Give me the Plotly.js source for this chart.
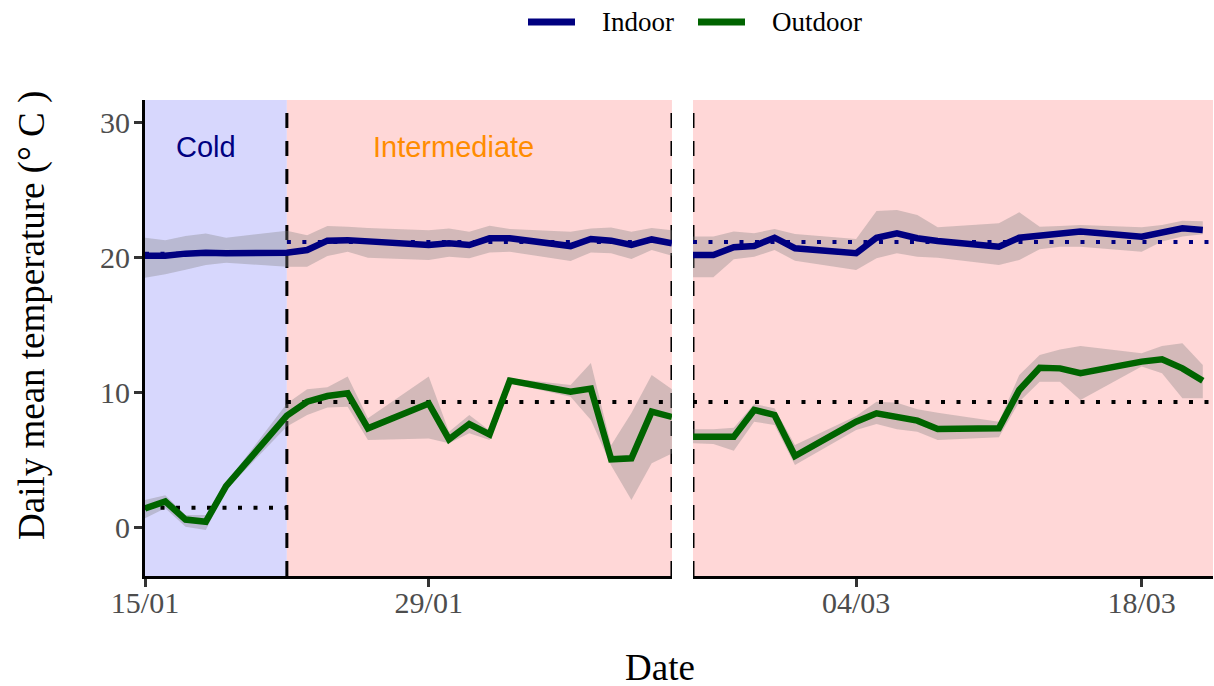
<!DOCTYPE html>
<html>
<head>
<meta charset="utf-8">
<script src="https://cdn.plot.ly/plotly-3.0.1.min.js"></script>
<style>
  html, body { margin: 0; padding: 0; background: #fff; }
  #chart { width: 1214px; height: 686px; }
</style>
</head>
<body>
<div id="chart"></div>
<script>
// Daily observation dates (two measurement campaigns separated by a gap)
const dates = [
  '2021-01-15','2021-01-16','2021-01-17','2021-01-18','2021-01-19','2021-01-22','2021-01-23',
  '2021-01-24','2021-01-25','2021-01-26','2021-01-29','2021-01-30','2021-01-31','2021-02-01',
  '2021-02-02','2021-02-05','2021-02-06','2021-02-07','2021-02-08','2021-02-09','2021-02-10',
  '2021-02-24','2021-02-25','2021-02-26','2021-02-27','2021-02-28','2021-03-01','2021-03-04',
  '2021-03-05','2021-03-06','2021-03-07','2021-03-08','2021-03-11','2021-03-12','2021-03-13',
  '2021-03-14','2021-03-15','2021-03-18','2021-03-19','2021-03-20','2021-03-21'
];

// Indoor daily mean temperature (°C) with its lower / upper band
const indoorMean = [
  20.15,20.15,20.3,20.37,20.32,20.37,20.57,21.26,21.3,21.2,20.94,21.06,20.94,21.43,21.43,20.86,21.38,21.26,20.94,21.35,21.06,
  20.2,20.2,20.77,20.87,21.48,20.7,20.33,21.48,21.81,21.44,21.24,20.81,21.48,21.61,21.81,21.93,21.56,21.85,22.18,22.05
];
const indoorLow = [
  18.52,18.77,19.1,19.46,19.63,19.33,19.33,20.12,20.44,20.0,19.83,20.07,19.95,20.39,20.44,19.75,20.39,20.32,19.9,20.57,20.15,
  18.55,18.55,19.88,20.07,20.57,19.78,19.09,19.96,20.33,20.07,20.0,19.46,19.83,20.62,20.81,20.81,20.44,21.19,21.56,21.73
];
const indoorHigh = [
  21.48,21.3,21.6,21.8,21.48,22.0,21.67,22.34,22.29,22.2,22.04,22.17,21.92,22.36,22.12,21.92,22.17,22.24,21.92,22.2,22.04,
  21.56,21.56,21.93,21.81,22.13,21.76,21.39,23.46,23.53,23.16,22.25,22.55,23.36,22.3,22.35,22.42,22.25,22.42,22.74,22.7
];

// Outdoor daily mean temperature (°C) with its lower / upper band
const outdoorMean = [
  1.42,1.95,0.6,0.44,3.07,8.3,9.33,9.75,9.95,7.36,9.2,6.54,7.68,6.91,10.89,10.07,10.3,5.06,5.14,8.59,8.2,
  6.74,6.74,6.74,8.72,8.35,5.31,7.85,8.47,8.17,7.93,7.31,7.36,10.2,11.85,11.8,11.44,12.3,12.47,11.8,10.89
];
const outdoorLow = [
  0.69,1.43,0.07,-0.17,2.8,7.5,8.35,8.9,8.96,6.5,6.6,6.25,7.0,6.5,10.7,9.7,7.97,4.6,2.05,4.77,5.5,
  6.25,6.2,5.7,7.85,7.6,4.64,7.24,7.68,7.29,7.11,6.5,6.7,9.33,10.81,10.81,9.46,11.93,11.44,9.58,9.58
];
const outdoorHigh = [
  2.05,2.4,0.94,0.94,3.3,9.2,10.25,10.4,11.2,8.1,11.2,7.1,8.35,7.2,11.06,10.57,12.2,6.1,8.5,11.3,10.25,
  7.29,7.29,7.41,9.16,8.84,6.12,8.27,9.33,9.26,8.77,8.52,7.85,11.31,12.79,13.2,13.46,12.92,13.46,13.66,12.05
];

// Temperature periods and their mean temperatures
const periodNames = ['Cold', 'Intermediate'];
const periodStart = ['2021-01-15', '2021-01-22'];
const periodEnd = ['2021-01-22', '2021-03-21 12:00'];
const periodIndoorMean = [20.3, 21.17];
const periodOutdoorMean = [1.48, 9.3];

// The two panels of the date axis (either side of the data gap)
const panelStart = ['2021-01-15', '2021-02-24'];
const panelEnd = ['2021-02-10', '2021-03-21 12:00'];
const panelTicks = [['2021-01-15', '2021-01-29'], ['2021-03-04', '2021-03-18']];

// Styling
const INDOOR = '#000080';
const OUTDOOR = '#006400';
const BAND = 'rgba(128,128,128,0.35)';
const periodFill = ['#D7D7FD', '#FFD7D7'];
const periodText = ['#000080', '#FF8C00'];
const SERIF = '"Liberation Serif", "Times New Roman", serif';
const SANS = '"Liberation Sans", Arial, sans-serif';
const axisIds = ['x', 'x2'];

function inPanel(p) {
  const idx = [];
  dates.forEach((d, i) => { if (d >= panelStart[p] && d <= panelEnd[p]) idx.push(i); });
  return idx;
}
const pick = (arr, idx) => idx.map(i => arr[i]);

const series = [
  { name: 'Indoor', color: INDOOR, mean: indoorMean, low: indoorLow, high: indoorHigh, periodMean: periodIndoorMean, dotColor: INDOOR },
  { name: 'Outdoor', color: OUTDOOR, mean: outdoorMean, low: outdoorLow, high: outdoorHigh, periodMean: periodOutdoorMean, dotColor: '#000000' }
];

const traces = [];
// ribbons
axisIds.forEach((ax, p) => {
  const idx = inPanel(p);
  const xs = pick(dates, idx);
  series.forEach(s => {
    traces.push({ x: xs, y: pick(s.low, idx), xaxis: ax, yaxis: 'y', type: 'scatter', mode: 'lines',
      line: { width: 0, color: 'rgba(0,0,0,0)' }, showlegend: false, hoverinfo: 'skip' });
    traces.push({ x: xs, y: pick(s.high, idx), xaxis: ax, yaxis: 'y', type: 'scatter', mode: 'lines',
      line: { width: 0, color: 'rgba(0,0,0,0)' }, fill: 'tonexty', fillcolor: BAND, showlegend: false, hoverinfo: 'skip' });
  });
});
// period mean reference lines, clipped to each panel
axisIds.forEach((ax, p) => {
  periodNames.forEach((name, k) => {
    const a = periodStart[k] > panelStart[p] ? periodStart[k] : panelStart[p];
    const b = periodEnd[k] < panelEnd[p] ? periodEnd[k] : panelEnd[p];
    if (a >= b) return;
    series.forEach(s => {
      traces.push({ x: [a, b], y: [s.periodMean[k], s.periodMean[k]], xaxis: ax, yaxis: 'y', type: 'scatter',
        mode: 'lines', line: { color: s.dotColor, width: 4, dash: '4px,11.5px' }, showlegend: false, hoverinfo: 'skip' });
    });
  });
});
// daily mean lines
axisIds.forEach((ax, p) => {
  const idx = inPanel(p);
  const xs = pick(dates, idx);
  series.forEach(s => {
    traces.push({ x: xs, y: pick(s.mean, idx), xaxis: ax, yaxis: 'y', type: 'scatter', mode: 'lines',
      name: s.name, showlegend: false, line: { color: s.color, width: 6.5 } });
  });
});

const shapes = [];
// period backgrounds
axisIds.forEach((ax, p) => {
  periodNames.forEach((name, k) => {
    const a = periodStart[k] > panelStart[p] ? periodStart[k] : panelStart[p];
    const b = periodEnd[k] < panelEnd[p] ? periodEnd[k] : panelEnd[p];
    if (a >= b) return;
    shapes.push({ type: 'rect', xref: ax, yref: 'paper', x0: a, x1: b, y0: 0, y1: 1,
      fillcolor: periodFill[k], line: { width: 0 }, layer: 'below' });
  });
});
// dashed boundaries: period change and both edges of the gap
const dashed = { color: '#000', width: 3, dash: '15px,13px' };
shapes.push({ type: 'line', xref: 'x', yref: 'paper', x0: periodStart[1], x1: periodStart[1], y0: 0, y1: 1, line: dashed, layer: 'below' });
shapes.push({ type: 'line', xref: 'x', yref: 'paper', x0: panelEnd[0], x1: panelEnd[0], y0: 0, y1: 1, line: dashed, layer: 'below' });
shapes.push({ type: 'line', xref: 'x2', yref: 'paper', x0: panelStart[1], x1: panelStart[1], y0: 0, y1: 1, line: dashed, layer: 'below' });

// legend keys drawn above the panels (pixel positions converted to paper units)
const plotL = 145, plotW = 1068, plotB = 576, plotH = 476;
const px = v => (v - plotL) / plotW;
const py = v => (plotB - v) / plotH;
const legendKeyX = [528, 698];
const legendTextX = [600, 770];
const annotations = [];
series.forEach((s, i) => {
  shapes.push({ type: 'line', xref: 'paper', yref: 'paper', x0: px(legendKeyX[i]), x1: px(legendKeyX[i] + 47),
    y0: py(22), y1: py(22), line: { color: s.color, width: 7 } });
  annotations.push({ text: s.name, xref: 'paper', yref: 'paper', x: px(legendTextX[i]), y: py(22),
    xanchor: 'left', yanchor: 'middle', showarrow: false, font: { family: SERIF, size: 27, color: '#000' } });
});

annotations.push(
  { text: periodNames[0], xref: 'x', yref: 'y', x: '2021-01-18', y: 28.2, showarrow: false,
    font: { family: SANS, size: 29, color: periodText[0] } },
  { text: periodNames[1], xref: 'x', yref: 'y', x: '2021-01-30 05:00', y: 28.2, showarrow: false,
    font: { family: SANS, size: 29, color: periodText[1] } },
  { text: 'Date', xref: 'paper', yref: 'paper', x: px(660), y: py(667), yanchor: 'middle', showarrow: false,
    font: { family: SERIF, size: 37, color: '#000' } },
  { text: 'Daily mean temperature (° C )', xref: 'paper', yref: 'paper', x: px(32), y: py(316),
    xanchor: 'center', yanchor: 'middle', textangle: -90, showarrow: false,
    font: { family: SERIF, size: 37, color: '#000' } }
);

const xAxisBase = {
  type: 'date', tickformat: '%d/%m', showgrid: false, zeroline: false,
  showline: true, linecolor: '#000', linewidth: 3,
  ticks: 'outside', ticklen: 8, tickwidth: 3, tickcolor: '#333', ticklabelstandoff: -10,
  tickfont: { family: SERIF, size: 30, color: '#4d4d4d' }, anchor: 'y', fixedrange: true
};

const layout = {
  width: 1214, height: 686,
  margin: { l: plotL, r: 1, t: 100, b: 686 - plotB },
  paper_bgcolor: '#fff', plot_bgcolor: '#fff',
  showlegend: false,
  xaxis: Object.assign({}, xAxisBase, { domain: [0, 0.4934], range: [panelStart[0], panelEnd[0]], tickvals: panelTicks[0] }),
  xaxis2: Object.assign({}, xAxisBase, { domain: [0.5131, 1], range: [panelStart[1], panelEnd[1]], tickvals: panelTicks[1] }),
  yaxis: {
    range: [-3.58, 31.68], tickvals: [0, 10, 20, 30], showgrid: false, zeroline: false,
    showline: true, linecolor: '#000', linewidth: 3,
    ticks: 'outside', ticklen: 8, tickwidth: 3, tickcolor: '#333', ticklabelstandoff: -2,
    tickfont: { family: SERIF, size: 30, color: '#4d4d4d' }, anchor: 'x', fixedrange: true
  },
  shapes: shapes,
  annotations: annotations
};

Plotly.newPlot('chart', traces, layout, { displayModeBar: false, staticPlot: true });
</script>
</body>
</html>
